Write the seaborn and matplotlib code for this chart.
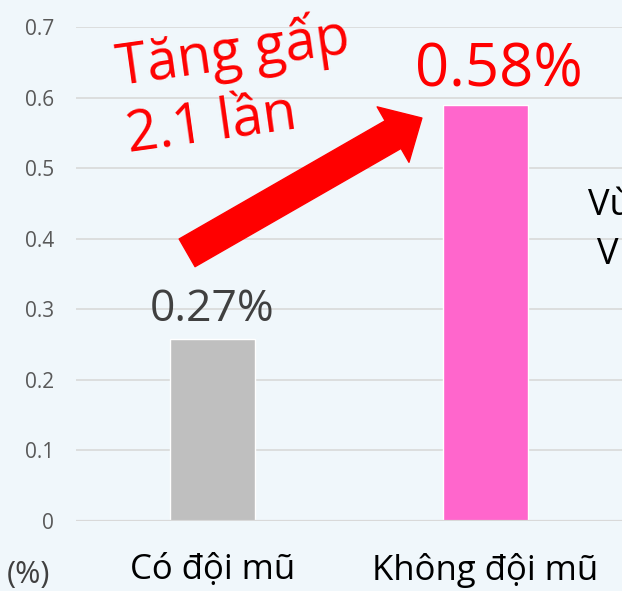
import matplotlib
matplotlib.use("Agg")
import matplotlib.pyplot as plt
import pandas as pd
import seaborn as sns

# données
categories = ["Có đội mũ", "Không đội mũ"]
taux = [0.258, 0.59]
etiquettes = ["0.27%", "0.58%"]
couleurs = ["#bfbfbf", "#ff66cc"]
yticks = [0, 0.1, 0.2, 0.3, 0.4, 0.5, 0.6, 0.7]
ytick_labels = ["0", "0.1", "0.2", "0.3", "0.4", "0.5", "0.6", "0.7"]

df = pd.DataFrame({"categorie": categories, "taux": taux})

sns.set_theme(style="whitegrid")
plt.rcParams["font.family"] = ["Open Sans", "DejaVu Sans"]

fond = "#f0f7fb"
fig = plt.figure(figsize=(6.22, 5.91), dpi=100, facecolor=fond)
ax = fig.add_axes([76 / 622, 70 / 591, 546 / 622, 494 / 591])
ax.set_facecolor(fond)

sns.barplot(data=df, x="categorie", y="taux", hue="categorie",
            palette=dict(zip(categories, couleurs)), width=0.315,
            legend=False, ax=ax, saturation=1)

ax.set_xlim(-0.5, 1.5)
ax.set_ylim(0, 0.7)
ax.set_yticks(yticks)
ax.set_yticklabels(ytick_labels)
ax.set_xlabel("")
ax.set_ylabel("")
ax.grid(axis="x", visible=False)
ax.grid(axis="y", color="#d9d9d9", linewidth=1.2)
ax.set_axisbelow(True)
for s in ax.spines.values():
    s.set_visible(False)
ax.axhline(0, color="#d9d9d9", linewidth=1.6, zorder=1)
ax.tick_params(axis="y", length=0, pad=16, labelsize=15, labelcolor="#595959")
ax.tick_params(axis="x", length=0, pad=23, labelsize=25, labelcolor="black")

# étiquettes de valeur
ax.text(0, taux[0] + 0.025, etiquettes[0], ha="center", va="baseline",
        fontsize=32, color="#404040")
ax.text(1.05, taux[1] + 0.025, etiquettes[1], ha="center", va="baseline",
        fontsize=43, color="red")

# flèche + commentaire
ax.annotate("", xy=(0.767, 0.571), xytext=(-0.093, 0.380),
            arrowprops=dict(arrowstyle="simple,head_length=0.52,head_width=1.0,tail_width=0.5",
                            mutation_scale=46, color="red", shrinkA=0, shrinkB=0))
ax.text(-0.365, 0.683, "Tăng gấp\n2.1 lần", ha="left", va="top", rotation=8,
        rotation_mode="anchor", multialignment="left", fontsize=40, color="red",
        linespacing=1.25)

# texte coupé à droite (comme sur l'original)
ax.text(1.375, 0.447, "Vù", ha="left", va="center", fontsize=26, color="black", clip_on=False)
ax.text(1.41, 0.377, "V", ha="left", va="center", fontsize=26, color="black", clip_on=False)

fig.text(7 / 622, 1 / 591, "(%)", ha="left", va="bottom", fontsize=22, color="#404040")

fig.savefig("out.png", dpi=100, facecolor=fond)
